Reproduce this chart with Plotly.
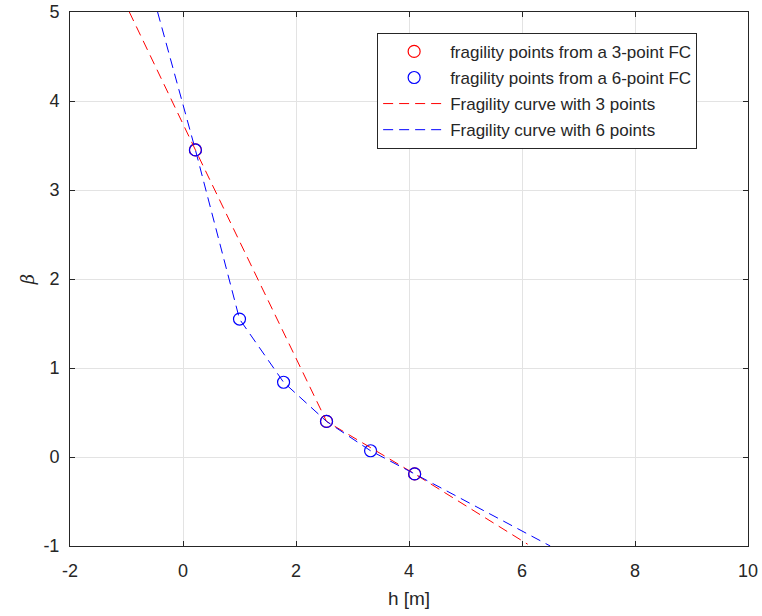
import plotly.graph_objects as go

# fragility points
pts3_h = [0.22, 2.54, 4.10]
pts3_b = [3.45, 0.40, -0.19]
pts6_h = [0.22, 1.00, 1.78, 2.54, 3.32, 4.10]
pts6_b = [3.45, 1.55, 0.84, 0.40, 0.07, -0.19]
# fragility curves (points plus extrapolated ends)
fc3_h = [-0.95, 0.22, 2.54, 4.10, 6.10]
fc3_b = [5.0, 3.45, 0.40, -0.19, -0.98]
fc6_h = [-0.45, 0.22, 1.00, 1.78, 2.54, 3.32, 4.10, 6.50]
fc6_b = [5.0, 3.45, 1.55, 0.84, 0.40, 0.07, -0.19, -1.0]

xticks = [-2, 0, 2, 4, 6, 8, 10]
xtick_labels = ["-2", "0", "2", "4", "6", "8", "10"]
yticks = [-1, 0, 1, 2, 3, 4, 5]
ytick_labels = ["-1", "0", "1", "2", "3", "4", "5"]

FONT = "Liberation Sans, Arial, sans-serif"
INK = "#262626"

fig = go.Figure()
fig.add_trace(go.Scatter(x=pts3_h, y=pts3_b, mode="markers", name="fragility points from a 3-point FC",
                         marker=dict(symbol="circle-open", size=12, color="#ff0000", line=dict(width=1.2))))
fig.add_trace(go.Scatter(x=pts6_h, y=pts6_b, mode="markers", name="fragility points from a 6-point FC",
                         marker=dict(symbol="circle-open", size=12, color="#0000ff", line=dict(width=1.2))))
fig.add_trace(go.Scatter(x=fc3_h, y=fc3_b, mode="lines", name="Fragility curve with 3 points",
                         line=dict(color="#ff0000", width=1, dash="10px,6px")))
fig.add_trace(go.Scatter(x=fc6_h, y=fc6_b, mode="lines", name="Fragility curve with 6 points",
                         line=dict(color="#0000ff", width=1, dash="10px,6px")))

axis_common = dict(showgrid=True, gridcolor="#e3e3e3", gridwidth=1, zeroline=False,
                   showline=True, linecolor=INK, linewidth=1, mirror="ticks",
                   ticks="inside", ticklen=5, tickcolor=INK, automargin=False,
                   tickfont=dict(family=FONT, size=18, color=INK))

fig.update_xaxes(range=[-2, 10], tickvals=xticks, ticktext=xtick_labels, ticklabelstandoff=8,
                 title=dict(text="h [m]", font=dict(family=FONT, size=19, color=INK), standoff=12),
                 **axis_common)
fig.update_yaxes(range=[-1, 5], tickvals=yticks, ticktext=ytick_labels, ticklabelstandoff=6,
                 title=dict(text="<i>β</i>", font=dict(family="DejaVu Serif, serif", size=18, color=INK), standoff=4),
                 **axis_common)

fig.update_layout(
    width=762, height=616,
    margin=dict(l=70, r=14, t=12, b=70),
    paper_bgcolor="white", plot_bgcolor="white",
    showlegend=True,
    legend=dict(x=0.453, y=0.961, xanchor="left", yanchor="top",
                bgcolor="white", bordercolor=INK, borderwidth=1,
                font=dict(family=FONT, size=17, color=INK),
                tracegroupgap=1, itemwidth=62),
)
for i, tr in enumerate(fig.data):
    tr.legendgroup = f"g{i}"

fig.write_html("out.html")
